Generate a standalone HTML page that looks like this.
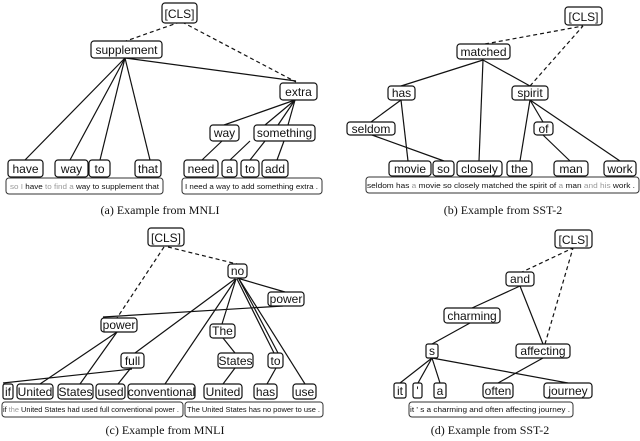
<!DOCTYPE html>
<html><head><meta charset="utf-8"><style>
html,body{margin:0;padding:0;background:#fff;}
svg{display:block;}
.n{fill:#fff;stroke:#111;stroke-width:1.2;}
.t{font-family:"Liberation Sans",sans-serif;font-size:12px;fill:#111;text-anchor:middle;}
.s{font-family:"Liberation Sans",sans-serif;font-size:7.4px;fill:#111;}
.g{fill:#999;}
.c{font-family:"Liberation Serif",serif;font-size:12px;fill:#111;text-anchor:middle;}
line{stroke:#111;stroke-width:1.2;}
.d{stroke-dasharray:4,3;}
.sb{fill:#fff;stroke:#333;stroke-width:1;}
</style></head><body>
<svg width="640" height="441" viewBox="0 0 640 441" xmlns="http://www.w3.org/2000/svg">
<!-- Panel a lines -->
<line class="d" x1="180" y1="22" x2="126" y2="41"/>
<line class="d" x1="182" y1="22" x2="296" y2="82"/>
<line x1="125" y1="58" x2="25" y2="160"/>
<line x1="125" y1="58" x2="70" y2="160"/>
<line x1="125" y1="58" x2="100" y2="160"/>
<line x1="125" y1="58" x2="150" y2="160"/>
<line x1="125" y1="58" x2="296" y2="81"/>
<line x1="295" y1="100" x2="224" y2="125"/>
<line x1="295" y1="100" x2="265" y2="125"/>
<line x1="295" y1="100" x2="278" y2="125"/>
<line x1="295" y1="100" x2="288" y2="125"/>
<line x1="222" y1="141" x2="202" y2="160"/>
<line x1="250" y1="141" x2="230" y2="160"/>
<line x1="265" y1="141" x2="250" y2="160"/>
<line x1="284" y1="141" x2="277" y2="160"/>
<!-- Panel a nodes -->
<rect class="n" x="162" y="3" width="35" height="20" rx="3"/><text class="t" x="179.5" y="18">[CLS]</text>
<rect class="n" x="91" y="41" width="71" height="17" rx="3"/><text class="t" x="126.5" y="54">supplement</text>
<rect class="n" x="280" y="83" width="37" height="17" rx="3"/><text class="t" x="298.5" y="96">extra</text>
<rect class="n" x="210" y="125" width="29" height="16" rx="3"/><text class="t" x="224.5" y="137">way</text>
<rect class="n" x="254" y="125" width="61" height="16" rx="3"/><text class="t" x="284.5" y="137">something</text>
<rect class="n" x="8" y="160" width="35" height="17" rx="3"/><text class="t" x="25.5" y="173">have</text>
<rect class="n" x="55" y="160" width="33" height="17" rx="3"/><text class="t" x="71.5" y="173">way</text>
<rect class="n" x="89" y="160" width="21" height="17" rx="3"/><text class="t" x="99.5" y="173">to</text>
<rect class="n" x="135" y="160" width="26" height="17" rx="3"/><text class="t" x="148" y="173">that</text>
<rect class="n" x="184" y="160" width="34" height="17" rx="3"/><text class="t" x="201" y="173">need</text>
<rect class="n" x="222" y="160" width="15" height="17" rx="3"/><text class="t" x="229.5" y="173">a</text>
<rect class="n" x="241" y="160" width="18" height="17" rx="3"/><text class="t" x="250" y="173">to</text>
<rect class="n" x="262" y="160" width="26" height="17" rx="3"/><text class="t" x="275" y="173">add</text>
<rect class="sb" x="6" y="178" width="157" height="16" rx="3"/>
<text class="s" x="10" y="189" textLength="149" lengthAdjust="spacingAndGlyphs"><tspan class="g">so I </tspan>have<tspan class="g"> to find a </tspan>way to supplement that</text>
<rect class="sb" x="182" y="178" width="140" height="16" rx="3"/>
<text class="s" x="185" y="189" textLength="133" lengthAdjust="spacingAndGlyphs">I need a way to add something extra .</text>
<text class="c" x="160" y="214">(a) Example from MNLI</text>

<!-- Panel b lines -->
<line class="d" x1="485" y1="44" x2="583" y2="26"/>
<line class="d" x1="530" y1="86" x2="583" y2="26"/>
<line x1="483" y1="60" x2="401" y2="86"/>
<line x1="483" y1="60" x2="479" y2="161"/>
<line x1="483" y1="60" x2="530" y2="86"/>
<line x1="401" y1="100" x2="371" y2="122"/>
<line x1="401" y1="100" x2="408" y2="161"/>
<line x1="372" y1="135" x2="444" y2="161"/>
<line x1="530" y1="100" x2="520" y2="161"/>
<line x1="530" y1="100" x2="543" y2="122"/>
<line x1="530" y1="100" x2="620" y2="161"/>
<line x1="543" y1="135" x2="570" y2="161"/>
<!-- Panel b nodes -->
<rect class="n" x="565" y="7" width="37" height="18" rx="3"/><text class="t" x="583.5" y="21">[CLS]</text>
<rect class="n" x="457" y="44" width="53" height="15" rx="3"/><text class="t" x="483.5" y="56">matched</text>
<rect class="n" x="388" y="86" width="27" height="14" rx="3"/><text class="t" x="401.5" y="97">has</text>
<rect class="n" x="512" y="86" width="36" height="14" rx="3"/><text class="t" x="530" y="97">spirit</text>
<rect class="n" x="347" y="122" width="48" height="13" rx="3"/><text class="t" x="371" y="133">seldom</text>
<rect class="n" x="534" y="122" width="19" height="13" rx="3"/><text class="t" x="543.5" y="133">of</text>
<rect class="n" x="389" y="161" width="42" height="15" rx="3"/><text class="t" x="410" y="173">movie</text>
<rect class="n" x="433" y="161" width="21" height="15" rx="3"/><text class="t" x="443.5" y="173">so</text>
<rect class="n" x="457" y="161" width="45" height="15" rx="3"/><text class="t" x="479.5" y="173">closely</text>
<rect class="n" x="507" y="161" width="25" height="15" rx="3"/><text class="t" x="519.5" y="173">the</text>
<rect class="n" x="554" y="161" width="34" height="15" rx="3"/><text class="t" x="571" y="173">man</text>
<rect class="n" x="604" y="161" width="32" height="15" rx="3"/><text class="t" x="620" y="173">work</text>
<rect class="sb" x="366" y="177" width="273" height="16" rx="3"/>
<text class="s" x="367" y="188" textLength="268" lengthAdjust="spacingAndGlyphs">seldom has <tspan class="g">a </tspan>movie so closely matched the spirit of <tspan class="g">a </tspan>man <tspan class="g">and his </tspan>work .</text>
<text class="c" x="503" y="214">(b) Example from SST-2</text>

<!-- Panel c lines -->
<line class="d" x1="164" y1="247" x2="117" y2="318"/>
<line class="d" x1="168" y1="247" x2="237" y2="264"/>
<line x1="237" y1="278" x2="285" y2="292"/>
<line x1="235" y1="279" x2="135" y2="353"/>
<line x1="236" y1="279" x2="165" y2="384"/>
<line x1="236" y1="279" x2="222" y2="324"/>
<line x1="237" y1="279" x2="274" y2="353"/>
<line x1="239" y1="279" x2="278" y2="353"/>
<line x1="239" y1="279" x2="305" y2="384"/>
<line x1="283" y1="306" x2="103" y2="317"/>
<line x1="117" y1="332" x2="40" y2="384"/>
<line x1="117" y1="332" x2="80" y2="384"/>
<line x1="3" y1="383" x2="132" y2="369"/>
<line x1="118" y1="384" x2="130" y2="369"/>
<line x1="223" y1="338" x2="235" y2="353"/>
<line x1="235" y1="368" x2="223" y2="384"/>
<line x1="276" y1="368" x2="267" y2="384"/>
<!-- Panel c nodes -->
<rect class="n" x="148" y="228" width="36" height="18" rx="3"/><text class="t" x="166" y="242">[CLS]</text>
<rect class="n" x="228" y="264" width="19" height="14" rx="3"/><text class="t" x="237.5" y="275">no</text>
<rect class="n" x="268" y="292" width="36" height="14" rx="3"/><text class="t" x="286" y="303">power</text>
<rect class="n" x="101" y="318" width="36" height="14" rx="3"/><text class="t" x="119" y="329">power</text>
<rect class="n" x="210" y="324" width="25" height="14" rx="3"/><text class="t" x="222.5" y="335">The</text>
<rect class="n" x="121" y="353" width="23" height="15" rx="3"/><text class="t" x="132.5" y="365">full</text>
<rect class="n" x="218" y="353" width="35" height="15" rx="3"/><text class="t" x="235.5" y="365">States</text>
<rect class="n" x="268" y="353" width="15" height="15" rx="3"/><text class="t" x="275.5" y="365">to</text>
<rect class="n" x="3" y="384" width="10" height="15" rx="2"/><text class="t" x="8" y="396">if</text>
<rect class="n" x="17" y="384" width="36" height="15" rx="3"/><text class="t" x="35" y="396">United</text>
<rect class="n" x="58" y="384" width="35" height="15" rx="3"/><text class="t" x="75.5" y="396">States</text>
<rect class="n" x="96" y="384" width="29" height="15" rx="3"/><text class="t" x="110.5" y="396">used</text>
<rect class="n" x="128" y="384" width="67" height="15" rx="3"/><text class="t" x="161.5" y="396">conventional</text>
<rect class="n" x="204" y="384" width="38" height="15" rx="3"/><text class="t" x="223" y="396">United</text>
<rect class="n" x="254" y="384" width="23" height="15" rx="3"/><text class="t" x="265.5" y="396">has</text>
<rect class="n" x="293" y="384" width="23" height="15" rx="3"/><text class="t" x="304.5" y="396">use</text>
<rect class="sb" x="2" y="402" width="181" height="15" rx="3"/>
<text class="s" x="3" y="412" textLength="176" lengthAdjust="spacingAndGlyphs">if <tspan class="g">the </tspan>United States had used full conventional power .</text>
<rect class="sb" x="185" y="402" width="138" height="15" rx="3"/>
<text class="s" x="187" y="412" textLength="133" lengthAdjust="spacingAndGlyphs">The United States has no power to use .</text>
<text class="c" x="165" y="434">(c) Example from MNLI</text>

<!-- Panel d lines -->
<line class="d" x1="520" y1="273" x2="573" y2="248"/>
<line class="d" x1="545" y1="344" x2="573" y2="248"/>
<line x1="520" y1="286" x2="472" y2="308"/>
<line x1="470" y1="323" x2="432" y2="344"/>
<line x1="520" y1="286" x2="543" y2="344"/>
<line x1="432" y1="358" x2="400" y2="383"/>
<line x1="432" y1="358" x2="418" y2="383"/>
<line x1="432" y1="358" x2="440" y2="383"/>
<line x1="432" y1="358" x2="568" y2="383"/>
<line x1="498" y1="383" x2="543" y2="358"/>
<!-- Panel d nodes -->
<rect class="n" x="555" y="230" width="37" height="18" rx="3"/><text class="t" x="573.5" y="244">[CLS]</text>
<rect class="n" x="506" y="272" width="28" height="14" rx="3"/><text class="t" x="520" y="283">and</text>
<rect class="n" x="444" y="308" width="56" height="15" rx="3"/><text class="t" x="472" y="320">charming</text>
<rect class="n" x="426" y="344" width="12" height="14" rx="2"/><text class="t" x="432" y="355">s</text>
<rect class="n" x="516" y="344" width="54" height="14" rx="3"/><text class="t" x="543" y="355">affecting</text>
<rect class="n" x="394" y="383" width="12" height="15" rx="2"/><text class="t" x="400" y="395">it</text>
<rect class="n" x="413" y="383" width="9" height="15" rx="2"/><text class="t" x="417.5" y="395">'</text>
<rect class="n" x="434" y="383" width="12" height="15" rx="2"/><text class="t" x="440" y="395">a</text>
<rect class="n" x="483" y="383" width="30" height="15" rx="3"/><text class="t" x="498" y="395">often</text>
<rect class="n" x="544" y="383" width="48" height="15" rx="3"/><text class="t" x="568" y="395">journey</text>
<rect class="sb" x="409" y="402" width="164" height="15" rx="3"/>
<text class="s" x="410" y="412" textLength="160" lengthAdjust="spacingAndGlyphs">it ' s a charming and often affecting journey .</text>
<text class="c" x="490" y="434">(d) Example from SST-2</text>
</svg>
</body></html>
